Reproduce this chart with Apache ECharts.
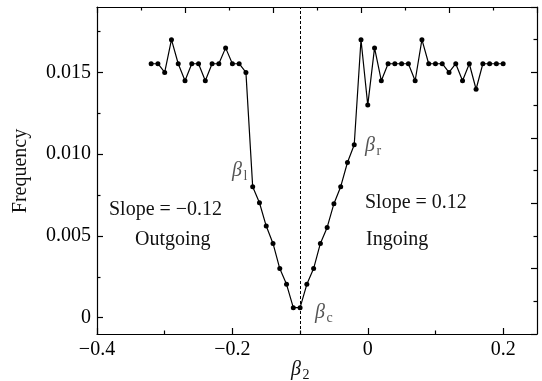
<!DOCTYPE html>
<html>
<head>
<meta charset="utf-8">
<script src="https://cdn.jsdelivr.net/npm/echarts@6/dist/echarts.min.js"></script>
<style>
  html, body { margin: 0; padding: 0; background: #fff; }
  #chart { width: 542px; height: 381px; }
</style>
</head>
<body>
<div id="chart"></div>
<script>
// beta_2 sample positions and measured frequency
const betaValues = [
  -0.32, -0.31, -0.30, -0.29, -0.28, -0.27, -0.26, -0.25, -0.24, -0.23,
  -0.22, -0.21, -0.20, -0.19, -0.18, -0.17, -0.16, -0.15, -0.14, -0.13,
  -0.12, -0.11, -0.10, -0.09, -0.08, -0.07, -0.06, -0.05, -0.04, -0.03,
  -0.02, -0.01, 0.00, 0.01, 0.02, 0.03, 0.04, 0.05, 0.06, 0.07,
  0.08, 0.09, 0.10, 0.11, 0.12, 0.13, 0.14, 0.15, 0.16, 0.17,
  0.18, 0.19, 0.20
];
const frequency = [
  0.01553, 0.01553, 0.01500, 0.01700, 0.01553, 0.01449, 0.01553, 0.01553, 0.01449, 0.01553,
  0.01553, 0.01650, 0.01553, 0.01553, 0.01500, 0.00800, 0.00703, 0.00560, 0.00454, 0.00300,
  0.00204, 0.00061, 0.00061, 0.00204, 0.00300, 0.00454, 0.00552, 0.00697, 0.00801, 0.00949,
  0.01057, 0.01700, 0.01300, 0.01650, 0.01449, 0.01553, 0.01553, 0.01553, 0.01553, 0.01449,
  0.01700, 0.01553, 0.01553, 0.01553, 0.01500, 0.01553, 0.01449, 0.01553, 0.01397, 0.01553,
  0.01553, 0.01553, 0.01553
];
const xMajorTicks = [-0.4, -0.2, 0, 0.2];
const xMinorTicks = [-0.3, -0.1, 0.1];
const yMajorTicks = [0, 0.005, 0.01, 0.015];
const yMinorTicks = [0.0025, 0.0075, 0.0125, 0.0175];
const betaC = -0.104;

const serif = '"Liberation Serif", "DejaVu Serif", serif';
const black = "#000";

const chart = echarts.init(document.getElementById("chart"));

const minusFmt = (v) => (v === 0 ? "0" : String(Math.round(v * 10) / 10).replace("-", "\u2212"));
const yFmt = (v) => (v === 0 ? "0" : v.toFixed(3));

// italic symbol with upright subscript
const subLabel = (x, y, main, sub, color) => ({
  type: "group",
  x: x,
  y: y,
  children: [
    {
      type: "text",
      x: 0,
      y: 0,
      style: { text: main, font: "italic 20px " + serif, fill: color, align: "left", verticalAlign: "middle" },
    },
    {
      type: "text",
      x: 11.5,
      y: 5,
      style: { text: sub, font: "14px " + serif, fill: color, align: "left", verticalAlign: "middle" },
    },
  ],
});

const plainText = (x, y, text, align) => ({
  type: "text",
  x: x,
  y: y,
  style: { text: text, font: "20px " + serif, fill: "#111", align: align || "left", verticalAlign: "middle" },
});

const lineAxis = { show: true, onZero: false, lineStyle: { color: black, width: 1.2 } };
const noLine = { show: false, onZero: false };

chart.setOption({
  animation: false,
  backgroundColor: "#fff",
  grid: { left: 97, right: 5, top: 7, bottom: 47 },
  xAxis: [
    {
      type: "value",
      position: "bottom",
      min: -0.4,
      max: 0.25,
      axisLine: lineAxis,
      axisTick: { show: true, inside: true, length: 6, customValues: xMajorTicks, lineStyle: { color: black, width: 1.2 } },
      axisLabel: {
        customValues: xMajorTicks,
        formatter: minusFmt,
        color: black,
        fontFamily: serif,
        fontSize: 20,
        margin: 6,
      },
      splitLine: { show: false },
    },
    {
      type: "value",
      position: "bottom",
      min: -0.4,
      max: 0.25,
      axisLine: noLine,
      axisTick: { show: true, inside: true, length: 3.5, customValues: xMinorTicks, lineStyle: { color: black, width: 1.2 } },
      axisLabel: { show: false },
      splitLine: { show: false },
    },
    {
      type: "value",
      position: "top",
      min: 0,
      max: 1,
      interval: 0.2,
      axisLine: lineAxis,
      axisTick: { show: true, inside: true, length: 6, lineStyle: { color: black, width: 1.2 } },
      minorTick: { show: true, splitNumber: 2, length: 3.5, lineStyle: { color: black, width: 1.2 } },
      axisLabel: { show: false },
      splitLine: { show: false },
    },
  ],
  yAxis: [
    {
      type: "value",
      position: "left",
      min: -0.001,
      max: 0.019,
      axisLine: lineAxis,
      axisTick: { show: true, inside: true, length: 6, customValues: yMajorTicks, lineStyle: { color: black, width: 1.2 } },
      axisLabel: {
        customValues: yMajorTicks,
        formatter: yFmt,
        color: black,
        fontFamily: serif,
        fontSize: 20,
        margin: 6,
      },
      splitLine: { show: false },
    },
    {
      type: "value",
      position: "left",
      min: -0.001,
      max: 0.019,
      axisLine: noLine,
      axisTick: { show: true, inside: true, length: 3.5, customValues: yMinorTicks, lineStyle: { color: black, width: 1.2 } },
      axisLabel: { show: false },
      splitLine: { show: false },
    },
    {
      type: "value",
      position: "right",
      min: 0,
      max: 1,
      interval: 0.2,
      axisLine: lineAxis,
      axisTick: { show: true, inside: true, length: 6, lineStyle: { color: black, width: 1.2 } },
      minorTick: { show: true, splitNumber: 2, length: 3.5, lineStyle: { color: black, width: 1.2 } },
      axisLabel: { show: false },
      splitLine: { show: false },
    },
  ],
  series: [
    {
      type: "line",
      xAxisIndex: 0,
      yAxisIndex: 0,
      data: betaValues.map((b, i) => [b, frequency[i]]),
      symbol: "circle",
      symbolSize: 5,
      showAllSymbol: true,
      lineStyle: { color: black, width: 1.2 },
      itemStyle: { color: black },
      markLine: {
        silent: true,
        symbol: "none",
        label: { show: false },
        lineStyle: { color: black, width: 1, type: [3, 2] },
        data: [{ xAxis: betaC }],
      },
    },
  ],
  graphic: [
    {
      type: "text",
      x: 21,
      y: 171,
      rotation: Math.PI / 2,
      style: { text: "Frequency", font: "20px " + serif, fill: "#111", align: "center", verticalAlign: "middle" },
    },
    subLabel(291, 370, "\u03b2", "2", "#111"),
    subLabel(232, 171, "\u03b2", "l", "#555"),
    subLabel(365, 146, "\u03b2", "r", "#555"),
    subLabel(315, 313, "\u03b2", "c", "#555"),
    plainText(109, 210, "Slope = \u22120.12"),
    plainText(135, 240, "Outgoing"),
    plainText(365, 203, "Slope = 0.12"),
    plainText(366, 240, "Ingoing"),
  ],
});
</script>
</body>
</html>
